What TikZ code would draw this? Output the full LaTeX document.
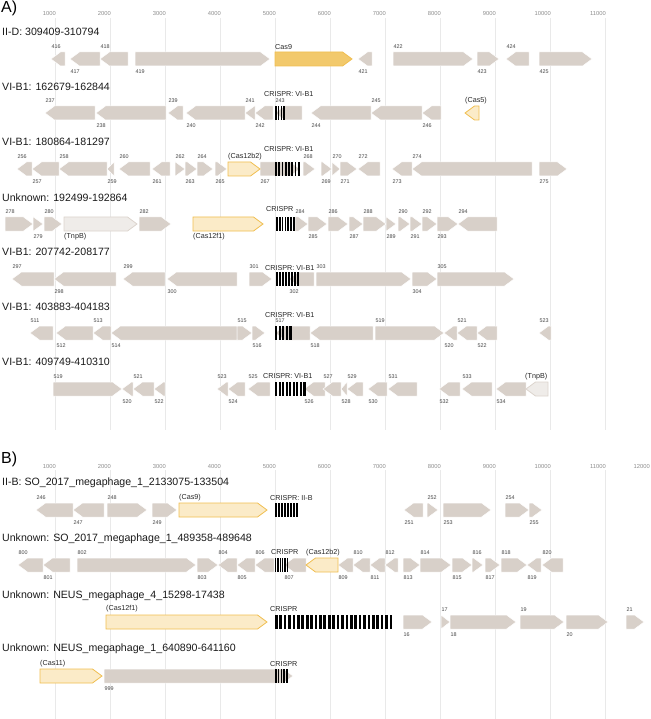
\documentclass[tikz,border=0pt]{standalone}
\usepackage{fontspec}
\setmainfont{Liberation Sans}
\usepackage{xcolor}

\definecolor{genegray}{HTML}{D8D0C9}
\definecolor{casdark}{HTML}{F2C96C}
\definecolor{casedge}{HTML}{F0BE50}
\definecolor{caslight}{HTML}{FBEBC8}
\definecolor{tnplight}{HTML}{EFECE9}
\definecolor{tnpedge}{HTML}{DCD4CD}
\definecolor{gridgray}{HTML}{E9E9E9}
\definecolor{ticktext}{HTML}{8C8C8C}
\definecolor{labeltext}{HTML}{444444}

\newcommand{\headlen}{9.5}
% one gene arrow: [style] base, tip, row y
\newcommand{\gene}[4][genebox]{%
  \pgfmathsetmacro{\gneck}{#3-sign(#3-#2)*min(\headlen,abs(#3-#2))}
  \path[#1] (#2,#4-7) -- (\gneck,#4-7) -- (#3,#4) -- (\gneck,#4+7) -- (#2,#4+7) -- cycle;
}
% a row of gray genes: row y, list of base/tip/number/(a)bove or (b)elow
\newcommand{\generow}[2]{%
  \foreach \gb/\gt/\gn/\gp in {#2} {
    \gene{\gb}{\gt}{#1}
    \pgfmathsetmacro{\gx}{min(\gb,\gt)+0.5}
    \if a\gp \def\gly{#1-12}\else\def\gly{#1+13}\fi
    \node[glabel] at (\gx,\gly) {\gn};
  }
}
% CRISPR array: x1, x2, number of repeats, row y
\newcommand{\crispr}[4]{%
  \pgfmathsetmacro{\csp}{(#2-#1)/#3}
  \foreach \k in {1,...,#3}
    \fill[black] ({#1+(\k-1)*\csp},#4-7) rectangle ++({0.6*\csp},14);
}

\begin{document}
\begin{tikzpicture}[x=1pt, y=-1pt,
    genebox/.style={fill=genegray, draw=white, line width=0.5pt},
    casfull/.style={fill=casdark, draw=casedge, line width=0.8pt},
    casput/.style={fill=caslight, draw=casedge, line width=0.8pt},
    tnpput/.style={fill=tnplight, draw=tnpedge, line width=0.8pt},
    glabel/.style={anchor=west, inner sep=0pt, text=labeltext, font=\fontsize{5.4}{6}\selectfont},
    caslabel/.style={anchor=west, inner sep=0pt, text=black!85, font=\fontsize{7.2}{8}\selectfont},
    ticklabel/.style={anchor=east, inner sep=0pt, text=ticktext, font=\fontsize{5.8}{7}\selectfont},
    trackname/.style={anchor=west, inner sep=0pt, text=black!90, font=\fontsize{10.6}{12}\selectfont},
    panellabel/.style={anchor=base west, inner sep=0pt, font=\fontsize{16}{18}\selectfont}]

    \useasboundingbox (0,0) rectangle (650,719);

    % Panel labels
    \node[panellabel] (pa) at (1,12.5) {A)};
    \node[panellabel] (pb) at (1,463) {B)};

    % Scale grid, panel A
    \foreach \k in {1,...,11} {
        \draw[gridgray, line width=0.6pt] (55*\k,18) -- (55*\k,430);
        \node[ticklabel] at (55*\k+1,14) {\the\numexpr\k*1000\relax};
    }
    % Scale grid, panel B
    \foreach \k in {1,...,11} {
        \draw[gridgray, line width=0.6pt] (55*\k,470) -- (55*\k,719);
        \node[ticklabel] at (55*\k+1,466) {\the\numexpr\k*1000\relax};
    }
    \node[ticklabel] at (650,466) {12000};

    % Track names
    \node[trackname] (ta1) at (2,32)  {II-D: 309409-310794};
    \node[trackname] (ta2) at (2,87)  {VI-B1: 162679-162844};
    \node[trackname] (ta3) at (2,142) {VI-B1: 180864-181297};
    \node[trackname] (ta4) at (2,198) {Unknown: 192499-192864};
    \node[trackname] (ta5) at (2,252) {VI-B1: 207742-208177};
    \node[trackname] (ta6) at (2,307) {VI-B1: 403883-404183};
    \node[trackname] (ta7) at (2,362) {VI-B1: 409749-410310};
    \node[trackname] (tb1) at (2,483) {II-B: SO\_2017\_megaphage\_1\_2133075-133504};
    \node[trackname] (tb2) at (2,539) {Unknown: SO\_2017\_megaphage\_1\_489358-489648};
    \node[trackname] (tb3) at (2,596) {Unknown: NEUS\_megaphage\_4\_15298-17438};
    \node[trackname] (tb4) at (2,649) {Unknown: NEUS\_megaphage\_1\_640890-641160};

    % A1: II-D
    \generow{59}{65/51/416/a, 100/70/417/b, 128/100/418/a, 135/270/419/b,
        372/358/421/b, 393/473/422/a, 477/499/423/b, 529/506/424/a, 539/592/425/b}
    \gene[casfull]{275}{352}{59}
    \node[caslabel] at (275,47) {Cas9};

    % A2: VI-B1
    \generow{113}{95/45/237/a, 166/96/238/b, 183/168/239/a, 245/186/240/b,
        255/245/241/a, 273/255/242/b, 302/275/243/a, 371/311/244/b,
        422/371/245/a, 441/422/246/b}
    \crispr{275}{286}{4}{113}
    \node[caslabel] at (264,94) {CRISPR: VI-B1};
    \gene[casput]{479}{465}{113}
    \node[caslabel] at (465,101) {(Cas5)};

    % A3: VI-B1
    \generow{169}{32/17/256/a, 59/32/257/b, 107/59/258/a, 114/107/259/b,
        150/119/260/a, 170/152/261/b, 175/185/262/a, 185/197/263/b,
        197/213/264/a, 215/227/265/b, 260/300/267/b, 303/315/268/a,
        321/332/269/b, 332/340/270/a, 340/357/271/b, 380/358/272/a,
        412/392/273/b, 532/412/274/a, 539/567/275/b}
    \gene[casput]{228}{260}{169}
    \node[caslabel] at (228,157) {(Cas12b2)};
    \crispr{275}{301}{8}{169}
    \node[caslabel] at (264,149) {CRISPR: VI-B1};

    % A4: Unknown
    \generow{224}{5/33/278/a, 33/43/279/b, 44/62/280/a, 139/171/282/a,
        295/308/284/a, 308/327/285/b, 328/348/286/a, 349/363/287/b,
        363/386/288/a, 386/396/289/b, 398/410/290/a, 410/422/291/b,
        422/437/292/a, 437/458/293/b, 497/458/294/a}
    \gene[tnpput]{64}{137}{224}
    \node[caslabel] at (64,237) {(TnpB)};
    \gene[casput]{193}{263}{224}
    \node[caslabel] at (193,237) {(Cas12f1)};
    \crispr{276}{296}{7}{224}
    \node[caslabel] at (266,209) {CRISPR};

    % A5: VI-B1
    \generow{279}{54/12/297/a, 116/54/298/b, 165/123/299/a, 237/167/300/b,
        249/272/301/a, 314/289/302/b, 316/411/303/a, 412/437/304/b, 437/514/305/a}
    \crispr{276}{300}{8}{279}
    \node[caslabel] at (265,268) {CRISPR: VI-B1};

    % A6: VI-B1
    \generow{333}{53/30/511/a, 93/56/512/b, 111/93/513/a, 237/111/514/b,
        237/252/515/a, 252/265/516/b, 310/275/517/a, 373/310/518/b,
        375/444/519/a, 457/444/520/b, 477/457/521/a, 497/477/522/b, 551/539/523/a}
    \crispr{275}{293}{5}{333}
    \node[caslabel] at (265,315) {CRISPR: VI-B1};

    % A7: VI-B1
    \generow{389}{53/122/519/a, 133/122/520/b, 154/133/521/a, 165/154/522/b,
        228/217/523/a, 245/228/524/b, 270/248/525/a, 325/304/526/b,
        341/323/527/a, 347/341/528/b, 363/347/529/a, 387/368/530/b,
        417/388/531/a, 460/439/532/b, 492/462/533/a, 526/496/534/b}
    \crispr{275}{307}{9}{389}
    \node[caslabel] at (263,376) {CRISPR: VI-B1};
    \gene[tnpput]{548}{526}{389}
    \node[caslabel] at (525,377) {(TnpB)};

    % B1: II-B
    \generow{510}{73/36/246/a, 104/73/247/b, 107/147/248/a, 152/177/249/b,
        423/404/251/b, 427/438/252/a, 443/491/253/b, 505/529/254/a, 529/542/255/b}
    \gene[casput]{179}{267}{510}
    \node[caslabel] at (179,498) {(Cas9)};
    \crispr{275}{299}{8}{510}
    \node[caslabel] at (270,498) {CRISPR: II-B};

    % B2: Unknown
    \generow{565}{43/18/800/a, 70/43/801/b, 77/196/802/a, 197/218/803/b,
        237/218/804/a, 255/237/805/b, 274/255/806/a, 306/284/807/b,
        353/338/809/b, 370/353/810/a, 385/370/811/b, 398/385/812/a,
        403/420/813/b, 420/451/814/a, 452/472/815/b, 472/483/816/a,
        485/500/817/b, 501/527/818/a, 541/527/819/b, 563/542/820/a}
    \crispr{275}{289}{6}{565}
    \node[caslabel] at (271,552) {CRISPR};
    \gene[casput]{338}{306}{565}
    \node[caslabel] at (306,553) {(Cas12b2)};

    % B3: Unknown
    \generow{622}{403/432/16/b, 441/450/17/a, 450/516/18/b, 520/564/19/a,
        566/608/20/b, 626/644/21/a}
    \gene[casput]{106}{267}{622}
    \node[caslabel] at (106,609) {(Cas12f1)};
    \crispr{275}{394}{27}{622}
    \node[caslabel] at (270,609) {CRISPR};

    % B4: Unknown
    \generow{676}{104/293/999/b}
    \crispr{275}{289}{5}{676}
    \node[caslabel] at (270,664) {CRISPR};
    \gene[casput]{40}{102}{676}
    \node[caslabel] at (40,664) {(Cas11)};

\end{tikzpicture}
\end{document}
